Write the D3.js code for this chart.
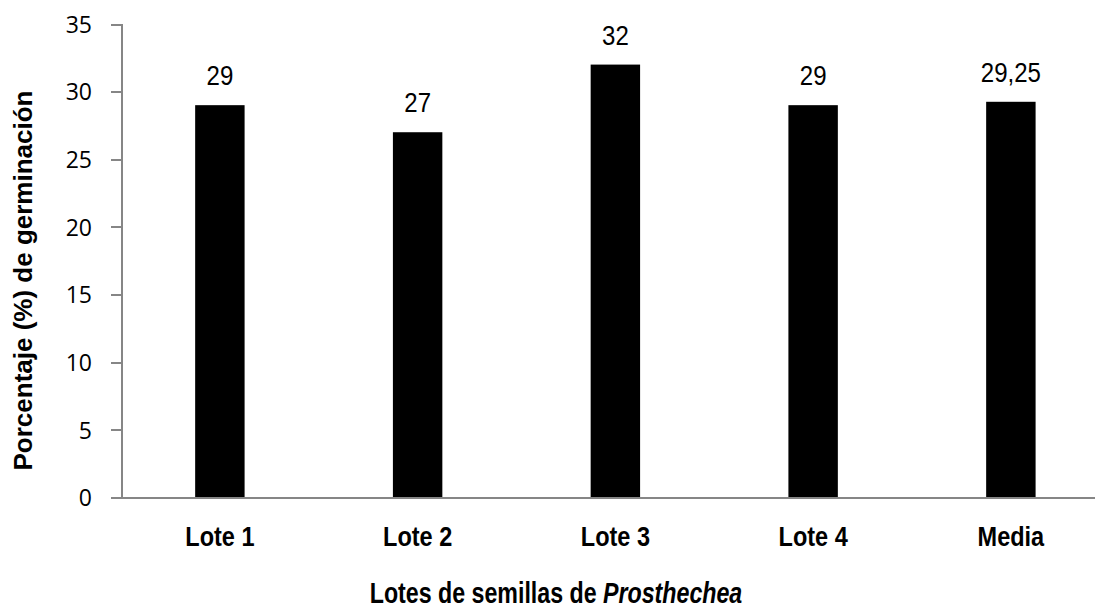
<!DOCTYPE html>
<meta charset="utf-8">
<script src="https://cdn.jsdelivr.net/npm/d3@7"></script>
<style>
    body { margin: 0; background: #fff; }
    .axis path, .axis line { stroke: #868686; stroke-width: 2; shape-rendering: crispEdges; }
    .axis text { font-family: "Open Sans", sans-serif; font-size: 23px; fill: #000; }
    .narrow { font-family: "Liberation Sans", Arial, sans-serif; }
</style>
<body>
<div id="chart"></div>
<script>
    var lotes = ["Lote 1", "Lote 2", "Lote 3", "Lote 4", "Media"]
    var germinacion = [29, 27, 32, 29, 29.25]
    var etiquetas = ["29", "27", "32", "29", "29,25"]
    var y_ticks = [0, 5, 10, 15, 20, 25, 30, 35]

    var W = 1095, H = 611
    var left = 121, top_ = 24, bottom = 497.5
    var svg = d3.select("#chart").append("svg").attr("width", W).attr("height", H)

    var x_scale = d3.scaleBand().domain(lotes).range([left, left + 5 * 197.75]).padding(0)
    var bar_w = x_scale.bandwidth() * 0.25
    var y_scale = d3.scaleLinear().domain([0, 35]).range([bottom, top_])
    var cx = (d) => x_scale(d) + x_scale.bandwidth() / 2

    // y axis
    svg.append("g").attr("class", "axis").attr("transform", "translate(" + left + ",0)")
        .call(d3.axisLeft(y_scale).tickValues(y_ticks).tickSize(10).tickSizeOuter(10).tickPadding(19))
        .selectAll("text").attr("dy", "0.36em")

    // bars
    svg.selectAll(".bar").data(lotes).enter().append("rect").attr("class", "bar")
        .attr("x", (d) => cx(d) - bar_w / 2)
        .attr("width", bar_w)
        .attr("y", (d, i) => y_scale(germinacion[i]))
        .attr("height", (d, i) => bottom - y_scale(germinacion[i]))
        .style("fill", "#000")

    // x axis line
    svg.append("line").attr("x1", left).attr("x2", left + 5 * 197.75).attr("y1", bottom).attr("y2", bottom)
        .style("stroke", "#868686").style("stroke-width", 2).style("shape-rendering", "crispEdges")

    // value labels (narrow look via scaleX)
    svg.selectAll(".val").data(lotes).enter().append("text").attr("class", "val narrow")
        .attr("transform", (d, i) => "translate(" + cx(d) + "," + (y_scale(germinacion[i]) - 20) + ") scale(0.89,1)")
        .attr("text-anchor", "middle").style("font-size", "27px")
        .text((d, i) => etiquetas[i])

    // category labels
    svg.selectAll(".cat").data(lotes).enter().append("text").attr("class", "cat narrow")
        .attr("transform", (d) => "translate(" + cx(d) + ",546) scale(0.87,1)")
        .attr("text-anchor", "middle").style("font-size", "27px").style("font-weight", "bold")
        .text((d) => d)

    // axis titles
    var xt = svg.append("text").attr("class", "narrow").attr("transform", "translate(556,603) scale(0.8,1)")
        .attr("text-anchor", "middle").style("font-size", "29px").style("font-weight", "bold")
    xt.append("tspan").text("Lotes de semillas de ")
    xt.append("tspan").style("font-style", "italic").text("Prosthechea")

    svg.append("text").attr("transform", "translate(32,280.5) rotate(-90)")
        .attr("text-anchor", "middle")
        .style("font-family", "'Liberation Sans', Arial, sans-serif")
        .style("font-size", "26px").style("font-weight", "bold")
        .text("Porcentaje (%) de germinación")
</script>
</body>
</html>
